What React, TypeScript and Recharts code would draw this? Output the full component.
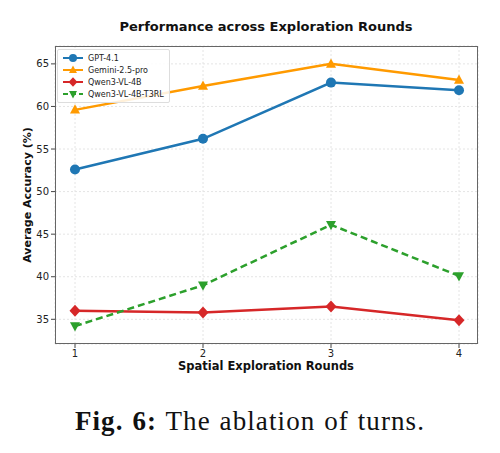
import { LineChart, Line, XAxis, YAxis, CartesianGrid } from 'recharts'

const rounds = [1, 2, 3, 4]
const gpt41 = [52.6, 56.2, 62.8, 61.9]
const gemini = [59.6, 62.4, 65.0, 63.1]
const qwen = [36.0, 35.8, 36.5, 34.9]
const qwenT3rl = [34.2, 39.0, 46.1, 40.1]
const yTicks = [35, 40, 45, 50, 55, 60, 65]

const series = [
  { key: 'gpt', name: 'GPT-4.1', color: '#1f77b4', marker: 'circle', dash: undefined },
  { key: 'gemini', name: 'Gemini-2.5-pro', color: '#ff9a00', marker: 'up', dash: undefined },
  { key: 'qwen', name: 'Qwen3-VL-4B', color: '#d62728', marker: 'diamond', dash: undefined },
  { key: 't3rl', name: 'Qwen3-VL-4B-T3RL', color: '#2ca02c', marker: 'down', dash: '7 4' },
]

const data = rounds.map((r, i) => ({
  round: r,
  gpt: gpt41[i],
  gemini: gemini[i],
  qwen: qwen[i],
  t3rl: qwenT3rl[i],
}))

const FONT = '"DejaVu Sans", sans-serif'

function Marker({ cx, cy, kind, color, s = 5 }: { cx: number; cy: number; kind: string; color: string; s?: number }) {
  if (kind === 'circle') return <circle cx={cx} cy={cy} r={s} fill={color} />
  if (kind === 'up')
    return <polygon points={`${cx},${cy - s * 1.1} ${cx - s},${cy + s * 0.75} ${cx + s},${cy + s * 0.75}`} fill={color} />
  if (kind === 'down')
    return <polygon points={`${cx},${cy + s * 1.1} ${cx - s},${cy - s * 0.75} ${cx + s},${cy - s * 0.75}`} fill={color} />
  return <polygon points={`${cx},${cy - s * 1.2} ${cx + s * 1.1},${cy} ${cx},${cy + s * 1.2} ${cx - s * 1.1},${cy}`} fill={color} />
}

function LegendBox() {
  return (
    <div
      style={{
        position: 'absolute',
        left: 57,
        top: 49,
        border: '1px solid #ddd',
        borderRadius: 2,
        background: 'rgba(255,255,255,0.85)',
        padding: '2px 5px 2px 3px',
        fontFamily: FONT,
        fontSize: 8,
        color: '#222',
      }}
    >
      {series.map((s) => (
        <div key={s.key} style={{ display: 'flex', alignItems: 'center', height: 12 }}>
          <svg width={24} height={12}>
            <line x1={2} y1={6} x2={22} y2={6} stroke={s.color} strokeWidth={2} strokeDasharray={s.dash ? '5 3' : undefined} />
            <Marker cx={12} cy={6} kind={s.marker} color={s.color} s={4} />
          </svg>
          <span style={{ marginLeft: 3 }}>{s.name}</span>
        </div>
      ))}
    </div>
  )
}

export default function App() {
  return (
    <div style={{ position: 'absolute', left: 0, top: 0, width: 500, height: 453, background: '#fff' }}>
      <div
        style={{
          position: 'absolute',
          top: 19,
          left: 54,
          width: 424,
          textAlign: 'center',
          fontFamily: FONT,
          fontWeight: 'bold',
          fontSize: 13,
          color: '#111',
        }}
      >
        Performance across Exploration Rounds
      </div>
      <div style={{ position: 'absolute', left: 0, top: 0 }}>
        <LineChart width={500} height={380} data={data} margin={{ top: 46, right: 22, left: 0, bottom: 0 }}>
          <CartesianGrid stroke="#e4e4e4" strokeDasharray="2 2" />
          <XAxis
            dataKey="round"
            type="number"
            domain={[1, 4]}
            ticks={rounds}
            padding={{ left: 20, right: 19 }}
            height={36}
            tickSize={4}
            axisLine={false}
            tickLine={{ stroke: '#444' }}
            tick={{ fontFamily: FONT, fontSize: 10, fill: '#222' }}
          />
          <YAxis
            type="number"
            domain={[32.1, 67.1]}
            ticks={yTicks}
            width={55}
            tickSize={4}
            axisLine={false}
            tickLine={{ stroke: '#444' }}
            tick={{ fontFamily: FONT, fontSize: 10, fill: '#222' }}
            allowDataOverflow
          />
          {series.map((s) => (
            <Line
              key={s.key}
              dataKey={s.key}
              name={s.name}
              stroke={s.color}
              strokeWidth={2.5}
              strokeDasharray={s.dash}
              isAnimationActive={false}
              dot={(p: any) => <Marker key={`${s.key}-${p.index}`} cx={p.cx} cy={p.cy} kind={s.marker} color={s.color} />}
              activeDot={false}
            />
          ))}
        </LineChart>
      </div>
      <LegendBox />
      <div
        style={{
          position: 'absolute',
          left: 55,
          top: 46,
          width: 423,
          height: 298,
          boxSizing: 'border-box',
          border: '1px solid #666',
          pointerEvents: 'none',
        }}
      />
      <div
        style={{
          position: 'absolute',
          top: 359,
          left: 54,
          width: 424,
          textAlign: 'center',
          fontFamily: FONT,
          fontWeight: 'bold',
          fontSize: 11.5,
          color: '#111',
        }}
      >
        Spatial Exploration Rounds
      </div>
      <div
        style={{
          position: 'absolute',
          left: 27,
          top: 195,
          transform: 'translate(-50%, -50%) rotate(-90deg)',
          whiteSpace: 'nowrap',
          lineHeight: 1,
          fontFamily: FONT,
          fontWeight: 'bold',
          fontSize: 11,
          color: '#111',
        }}
      >
        Average Accuracy (%)
      </div>
      <div
        style={{
          position: 'absolute',
          top: 406,
          left: 0,
          width: 500,
          textAlign: 'center',
          fontFamily: '"Liberation Serif", "DejaVu Serif", serif',
          fontSize: 27,
          letterSpacing: 1.1,
          wordSpacing: 1,
          color: '#111',
        }}
      >
        <b>Fig. 6:</b> The ablation of turns.
      </div>
    </div>
  )
}
